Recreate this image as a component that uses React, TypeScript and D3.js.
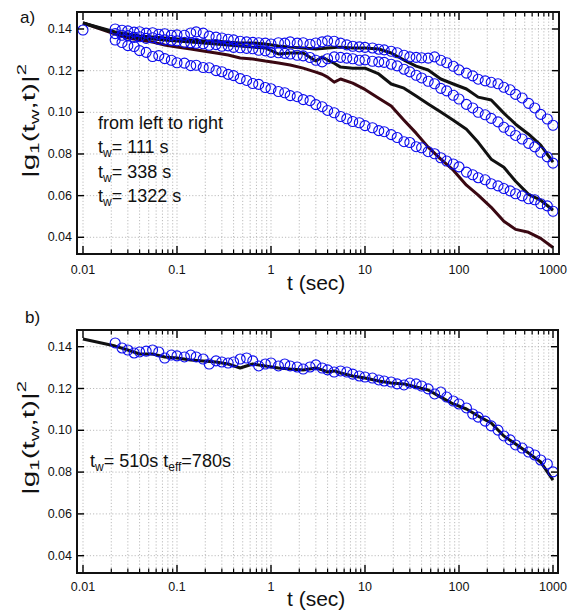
import React from 'react';
import * as d3 from 'd3';

// ---------- data ----------
const circleT = [
  0.022, 0.026, 0.030, 0.035, 0.040, 0.047, 0.055, 0.064, 0.074, 0.087,
  0.10, 0.12, 0.14, 0.16, 0.19, 0.22, 0.26, 0.30, 0.35, 0.40, 0.47, 0.55, 0.64, 0.74, 0.87,
  1.0, 1.2, 1.4, 1.6, 1.9, 2.2, 2.6, 3.0, 3.5, 4.0, 4.7, 5.5, 6.4, 7.4, 8.7,
  10, 12, 14, 16, 19, 22, 26, 30, 35, 40, 47, 55, 64, 74, 87,
  100, 120, 140, 160, 190, 220, 260, 300, 350, 400, 470, 550, 640, 740, 870,
  1000,
];

// top panel, measured |g1|^2, tw = 111 s
const circlesTw111 = [
  0.1347, 0.1335, 0.1320, 0.1316, 0.1296, 0.1288, 0.1268, 0.1272, 0.1258, 0.1250,
  0.1238, 0.1236, 0.1224, 0.1226, 0.1215, 0.1214, 0.1200, 0.1195, 0.1182, 0.1176, 0.1162, 0.1153, 0.1138, 0.1134, 0.1119,
  0.1113, 0.1100, 0.1094, 0.1080, 0.1075, 0.1061, 0.1056, 0.1037, 0.1027, 0.1009, 0.0998, 0.0980, 0.0969, 0.0956, 0.0950,
  0.0936, 0.0926, 0.0912, 0.0907, 0.0893, 0.0879, 0.0859, 0.0855, 0.0835, 0.0830, 0.0811, 0.0801, 0.0782, 0.0766, 0.0752,
  0.0738, 0.0713, 0.0700, 0.0686, 0.0676, 0.0657, 0.0647, 0.0634, 0.0623, 0.0609, 0.0599, 0.0585, 0.0580, 0.0561, 0.0551,
  0.0525,
];
// tw = 338 s
const circlesTw338 = [
  0.1378, 0.1370, 0.1368, 0.1360, 0.1363, 0.1355, 0.1358, 0.1350, 0.1348, 0.1345,
  0.1343, 0.1336, 0.1334, 0.1331, 0.1329, 0.1322, 0.1325, 0.1317, 0.1319, 0.1312, 0.1310, 0.1307, 0.1305, 0.1298, 0.1295,
  0.1288, 0.1286, 0.1283, 0.1280, 0.1274, 0.1271, 0.1263, 0.1250, 0.1242, 0.1257, 0.1266, 0.1264, 0.1260, 0.1257, 0.1250,
  0.1252, 0.1245, 0.1242, 0.1240, 0.1231, 0.1223, 0.1207, 0.1194, 0.1178, 0.1165, 0.1149, 0.1137, 0.1115, 0.1103, 0.1082,
  0.1064, 0.1038, 0.1021, 0.1000, 0.0988, 0.0971, 0.0954, 0.0928, 0.0911, 0.0889, 0.0872, 0.0851, 0.0834, 0.0808, 0.0786,
  0.0756,
];
// tw = 1322 s
const circlesTw1322 = [
  0.1400, 0.1394, 0.1391, 0.1385, 0.1387, 0.1380, 0.1382, 0.1375, 0.1377, 0.1370,
  0.1372, 0.1370, 0.1381, 0.1386, 0.1380, 0.1366, 0.1361, 0.1357, 0.1351, 0.1348, 0.1341, 0.1338, 0.1336, 0.1334, 0.1332,
  0.1328, 0.1334, 0.1332, 0.1338, 0.1332, 0.1334, 0.1327, 0.1333, 0.1338, 0.1343, 0.1341, 0.1332, 0.1324, 0.1317, 0.1314,
  0.1312, 0.1309, 0.1303, 0.1300, 0.1293, 0.1286, 0.1274, 0.1266, 0.1264, 0.1262, 0.1260, 0.1266, 0.1250, 0.1238, 0.1221,
  0.1204, 0.1188, 0.1175, 0.1159, 0.1151, 0.1144, 0.1137, 0.1120, 0.1108, 0.1086, 0.1069, 0.1043, 0.1021, 0.0990, 0.0968,
  0.0938,
];
// shared first point of the top panel
const startT = [0.01];
const startV = [0.1395];

// bottom panel, tw = 510 s
const circlesTw510 = [
  0.1418, 0.1394, 0.1384, 0.1370, 0.1375, 0.1379, 0.1384, 0.1375, 0.1346, 0.1360,
  0.1356, 0.1351, 0.1360, 0.1351, 0.1341, 0.1317, 0.1332, 0.1327, 0.1322, 0.1327, 0.1341, 0.1346, 0.1332, 0.1308, 0.1317,
  0.1322, 0.1308, 0.1317, 0.1308, 0.1303, 0.1293, 0.1303, 0.1313, 0.1298, 0.1289, 0.1279, 0.1284, 0.1279, 0.1269, 0.1260,
  0.1255, 0.1250, 0.1241, 0.1236, 0.1231, 0.1222, 0.1217, 0.1226, 0.1222, 0.1212, 0.1198, 0.1174, 0.1183, 0.1159, 0.1140,
  0.1126, 0.1107, 0.1078, 0.1063, 0.1044, 0.1021, 0.1001, 0.0973, 0.0954, 0.0930, 0.0915, 0.0896, 0.0882, 0.0858, 0.0839,
  0.0801,
];

const lineT = [
  0.01,
  0.022, 0.030, 0.040, 0.055, 0.074,
  0.1, 0.14, 0.19, 0.26, 0.35, 0.47, 0.64, 0.87,
  1.2, 1.6, 2.2, 3.0, 3.5, 4.0, 4.7, 5.5, 7.4,
  10, 14, 19, 26, 35, 47, 64, 87,
  120, 160, 220, 300, 400, 550, 740,
  1000,
];
const lineMaroon = [
  0.1429,
  0.1376, 0.1357, 0.1347, 0.1337, 0.1323,
  0.1313, 0.1304, 0.1294, 0.1285, 0.1275, 0.1261, 0.1256, 0.1246,
  0.1237, 0.1227, 0.1212, 0.1193, 0.1183, 0.1169, 0.1145, 0.1160, 0.1140,
  0.1110, 0.1068, 0.1030, 0.0962, 0.0900, 0.0833, 0.0775, 0.0722,
  0.0650, 0.0602, 0.0544, 0.0477, 0.0438, 0.0424, 0.0395,
  0.0351,
];
const lineBlackLow = [
  0.1429,
  0.1381, 0.1366, 0.1357, 0.1352, 0.1347,
  0.1342, 0.1337, 0.1333, 0.1328, 0.1323, 0.1318, 0.1313, 0.1309,
  0.1280, 0.1285, 0.1285, 0.1246, 0.1265, 0.1251, 0.1236, 0.1217, 0.1212,
  0.1212, 0.1184, 0.1136, 0.1116, 0.1078, 0.1040, 0.1001, 0.0962,
  0.0919, 0.0856, 0.0775, 0.0736, 0.0669, 0.0606, 0.0578,
  0.0530,
];
const lineBlackHigh = [
  0.1429,
  0.1386, 0.1376, 0.1366, 0.1362, 0.1357,
  0.1352, 0.1347, 0.1342, 0.1342, 0.1337, 0.1333, 0.1333, 0.1328,
  0.1318, 0.1313, 0.1309, 0.1304, 0.1306, 0.1309, 0.1311, 0.1313, 0.1309,
  0.1309, 0.1304, 0.1285, 0.1251, 0.1222, 0.1203, 0.1160, 0.1136,
  0.1112, 0.1073, 0.1059, 0.0996, 0.0943, 0.0895, 0.0842,
  0.0761,
];
const lineBottom = [
  0.1437,
  0.1403, 0.1384, 0.1365, 0.1365, 0.1351,
  0.1346, 0.1336, 0.1332, 0.1327, 0.1317, 0.1298, 0.1317, 0.1308,
  0.1298, 0.1293, 0.1289, 0.1298, 0.1289, 0.1279, 0.1284, 0.1274, 0.1260,
  0.1250, 0.1236, 0.1226, 0.1222, 0.1207, 0.1193, 0.1159, 0.1126,
  0.1102, 0.1068, 0.1035, 0.0973, 0.0934, 0.0891, 0.0848,
  0.0762,
];

const xTickValues = [0.01, 0.1, 1, 10, 100, 1000];
const xTickLabels = ['0.01', '0.1', '1', '10', '100', '1000'];
const yTickValues = [0.04, 0.06, 0.08, 0.10, 0.12, 0.14];
const annotationLines = ['111 s', '338 s', '1322 s'];

// ---------- drawing ----------
const FONT = "'Liberation Sans', Arial, Helvetica, sans-serif";
const BLUE = '#0a0aee';
const MAROON = '#3a0812';
const R = 5;

type PanelGeom = {
  left: number; right: number; top: number; bottom: number;
  y014: number; y004: number; tickLabelY: number; titleY: number;
  yLabelCenter: number; tag: string; tagX: number; tagY: number;
};

const topGeom: PanelGeom = {
  left: 77, right: 559, top: 12, bottom: 254, y014: 29, y004: 237.3,
  tickLabelY: 270, titleY: 290, yLabelCenter: 121, tag: 'a)', tagX: 20, tagY: 23,
};
const botGeom: PanelGeom = {
  left: 77, right: 558, top: 330, bottom: 573, y014: 346.7, y004: 555.7,
  tickLabelY: 587, titleY: 606, yLabelCenter: 438, tag: 'b)', tagX: 25, tagY: 323,
};

const x = d3.scaleLog().domain([0.01, 1000]).range([83, 553]);

function minorTicks(): number[] {
  const out: number[] = [];
  for (let e = -2; e < 3; e++) {
    for (let m = 2; m <= 9; m++) out.push(m * Math.pow(10, e));
  }
  return out;
}

function Panel({ g, children }: { g: PanelGeom; children: (y: d3.ScaleLinear<number, number>) => React.ReactNode }) {
  const y = d3.scaleLinear().domain([0.04, 0.14]).range([g.y004, g.y014]);
  const minors = minorTicks();
  const grid = '#b4b4b4';
  return (
    <g>
      {[...xTickValues, ...minors].map((t, i) => (
        <line key={'gx' + i} x1={x(t)} x2={x(t)} y1={g.top} y2={g.bottom}
          stroke={grid} strokeWidth={0.9} strokeDasharray="1.2,2" />
      ))}
      {yTickValues.map((v, i) => (
        <line key={'gy' + i} x1={g.left} x2={g.right} y1={y(v)} y2={y(v)}
          stroke={grid} strokeWidth={0.9} strokeDasharray="1.2,2" />
      ))}
      {children(y)}
      {xTickValues.map((t, i) => (
        <g key={'tx' + i}>
          <line x1={x(t)} x2={x(t)} y1={g.bottom} y2={g.bottom - 8} stroke="#000" strokeWidth={1.4} />
          <line x1={x(t)} x2={x(t)} y1={g.top} y2={g.top + 8} stroke="#000" strokeWidth={1.4} />
        </g>
      ))}
      {minors.map((t, i) => (
        <g key={'mx' + i}>
          <line x1={x(t)} x2={x(t)} y1={g.bottom} y2={g.bottom - 4.5} stroke="#000" strokeWidth={1.2} />
          <line x1={x(t)} x2={x(t)} y1={g.top} y2={g.top + 4.5} stroke="#000" strokeWidth={1.2} />
        </g>
      ))}
      {yTickValues.map((v, i) => (
        <g key={'ty' + i}>
          <line x1={g.left} x2={g.left + 7} y1={y(v)} y2={y(v)} stroke="#000" strokeWidth={1.4} />
          <line x1={g.right} x2={g.right - 7} y1={y(v)} y2={y(v)} stroke="#000" strokeWidth={1.4} />
        </g>
      ))}
      <rect x={g.left} y={g.top} width={g.right - g.left} height={g.bottom - g.top}
        fill="none" stroke="#111" strokeWidth={2} />
      {xTickValues.map((t, i) => (
        <text key={'lx' + i} x={x(t)} y={g.tickLabelY} textAnchor="middle" dominantBaseline="central"
          fontSize={12.5} fontFamily={FONT} fill="#111">{xTickLabels[i]}</text>
      ))}
      {yTickValues.map((v, i) => (
        <text key={'ly' + i} x={g.left - 5} y={y(v)} textAnchor="end" dominantBaseline="central"
          fontSize={12.5} fontFamily={FONT} fill="#111">{d3.format('.2f')(v)}</text>
      ))}
      <text x={287} y={g.titleY} fontSize={21} fontFamily={FONT} fill="#111">t (sec)</text>
      <text transform={`translate(35,${g.yLabelCenter}) rotate(-90)`} textAnchor="middle"
        fontSize={19} fontFamily={FONT} fill="#111" textLength={114} lengthAdjust="spacingAndGlyphs">
        |g<tspan fontSize={13} dy={4}>1</tspan><tspan dy={-4}>(t</tspan><tspan fontSize={13} dy={4}>w</tspan><tspan dy={-4}>,t)|</tspan><tspan fontSize={13} dy={-9}>2</tspan>
      </text>
      <text x={g.tagX} y={g.tagY} fontSize={17} fontFamily={FONT} fill="#111">{g.tag}</text>
    </g>
  );
}

function lineGen(y: d3.ScaleLinear<number, number>) {
  return d3.line<number>().x((_, i) => x(lineT[i])).y((v) => y(v));
}

export default function App() {
  const topSeries = [circlesTw111, circlesTw338, circlesTw1322];
  return (
    <svg width={579} height={612} style={{ position: 'absolute', left: 0, top: 0, background: '#fff' }}>
      <rect x={0} y={0} width={579} height={612} fill="#fff" />
      <Panel g={topGeom}>
        {(y) => (
          <g>
            <path d={lineGen(y)(lineMaroon) || ''} fill="none" stroke={MAROON} strokeWidth={3} strokeLinejoin="round" />
            <path d={lineGen(y)(lineBlackLow) || ''} fill="none" stroke="#111" strokeWidth={3} strokeLinejoin="round" />
            <path d={lineGen(y)(lineBlackHigh) || ''} fill="none" stroke="#111" strokeWidth={3} strokeLinejoin="round" />
            {startT.map((t, i) => (
              <circle key={'s' + i} cx={x(t)} cy={y(startV[i])} r={R} fill="none" stroke={BLUE} strokeWidth={1.1} />
            ))}
            {topSeries.map((vals, si) => vals.map((v, i) => (
              <circle key={si + '-' + i} cx={x(circleT[i])} cy={y(v)} r={R} fill="none" stroke={BLUE} strokeWidth={1.1} />
            )))}
            <text x={98} y={129} fontSize={18} fontFamily={FONT} fill="#111">from left to right</text>
            {annotationLines.map((s, i) => (
              <text key={'a' + i} x={98} y={153 + i * 24.5} fontSize={18} fontFamily={FONT} fill="#111">
                t<tspan fontSize={12} dy={4}>w</tspan><tspan dy={-4}>{'= ' + s}</tspan>
              </text>
            ))}
          </g>
        )}
      </Panel>
      <Panel g={botGeom}>
        {(y) => (
          <g>
            <path d={lineGen(y)(lineBottom) || ''} fill="none" stroke="#111" strokeWidth={3} strokeLinejoin="round" />
            {circlesTw510.map((v, i) => (
              <circle key={'b' + i} cx={x(circleT[i])} cy={y(v)} r={R} fill="none" stroke={BLUE} strokeWidth={1.1} />
            ))}
            <text x={90} y={467} fontSize={18} fontFamily={FONT} fill="#111">
              t<tspan fontSize={12} dy={4}>w</tspan><tspan dy={-4}>= 510s t</tspan><tspan fontSize={12} dy={4}>eff</tspan><tspan dy={-4}>=780s</tspan>
            </text>
          </g>
        )}
      </Panel>
    </svg>
  );
}
